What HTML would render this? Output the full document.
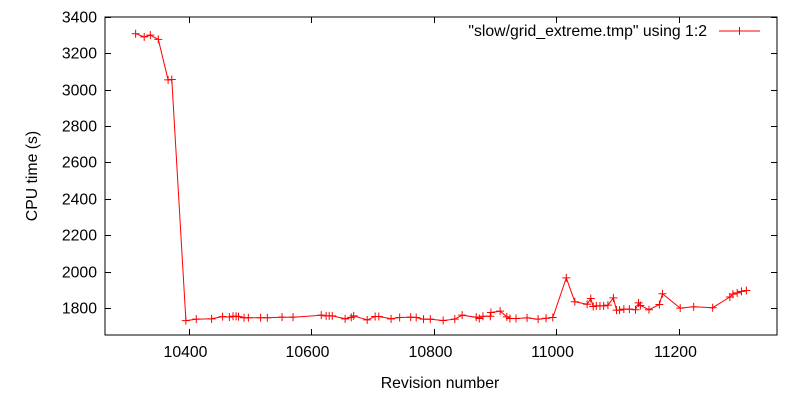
<!DOCTYPE html>
<html><head><meta charset="utf-8"><style>
body{margin:0;background:#fff;}
svg{display:block;font-family:"Liberation Sans",Arial,sans-serif;}
</style></head><body>
<svg id="chart" width="800" height="400">
<rect x="0" y="0" width="800" height="400" fill="#fff"/>
<g id="axes"></g>
<g id="series"></g>
<text x="707" y="36" font-size="15.8" text-anchor="end">"slow/grid_extreme.tmp" using 1:2</text>
<line x1="719" y1="31" x2="760" y2="31" stroke="#f00" stroke-width="1"/>
<line x1="739.5" y1="27" x2="739.5" y2="35" stroke="#f00" stroke-width="1"/>
<text x="440" y="388" font-size="15.8" text-anchor="middle">Revision number</text>
<text x="37" y="176" font-size="15.8" text-anchor="middle" transform="rotate(-90 37 176)">CPU time (s)</text>
</svg>
<script>
const xTicks=[10400,10600,10800,11000,11200];
const yTicks=[1800,2000,2200,2400,2600,2800,3000,3200,3400];
const revisions=[10313,10327,10337,10350,10366,10372,10395,10412,10437,10455,10466,10472,10477,10481,10490,10497,10517,10528,10552,10570,10616,10624,10629,10634,10655,10665,10669,10691,10704,10710,10730,10744,10762,10771,10783,10794,10815,10834,10846,10869,10874,10880,10892,10893,10908,10919,10924,10934,10952,10970,10983,10994,11016,11030,11050,11056,11060,11065,11071,11077,11084,11093,11098,11103,11110,11119,11129,11134,11137,11151,11168,11173,11202,11224,11255,11283,11288,11295,11302,11310];
const cpuTimes=[3308,3291,3300,3277,3054,3056,1730,1738,1740,1752,1750,1754,1754,1752,1746,1746,1746,1746,1749,1749,1760,1756,1756,1756,1740,1748,1756,1734,1753,1753,1740,1747,1749,1747,1738,1738,1731,1738,1760,1749,1742,1754,1754,1775,1782,1751,1742,1742,1745,1738,1743,1747,1965,1834,1820,1852,1808,1811,1811,1811,1815,1855,1788,1788,1793,1793,1790,1828,1813,1790,1819,1878,1799,1806,1801,1860,1876,1883,1891,1896];
const L=105,R=777,T=17,B=335;
const xMin=10263,xMax=11360,yMin=1651,yMax=3400;
const sx=v=>L+(v-xMin)/(xMax-xMin)*(R-L);
const sy=v=>B-(v-yMin)/(yMax-yMin)*(B-T);
const NS="http://www.w3.org/2000/svg";
const axes=document.getElementById('axes'),series=document.getElementById('series');
function mk(tag,attrs,parent){const e=document.createElementNS(NS,tag);for(const k in attrs)e.setAttribute(k,attrs[k]);parent.appendChild(e);return e;}
const frame=mk('rect',{x:L,y:T,width:R-L,height:B-T,fill:'none',stroke:'#000','stroke-width':1},axes);


xTicks.forEach(v=>{const x=Math.round(sx(v))+0.5;
 const t1=mk('line',{x1:x,y1:B,x2:x,y2:B-6,stroke:'#000'},axes);
 
 
 const t2=mk('line',{x1:x,y1:T,x2:x,y2:T+6,stroke:'#000'},axes);
 
 
 const tx=mk('text',{x:x-4,y:B+22,'font-size':15.8,'text-anchor':'middle'},axes);tx.textContent=v;
 
 
});
yTicks.forEach(v=>{const y=Math.round(sy(v))+0.5;
 const t1=mk('line',{x1:L,y1:y,x2:L+6,y2:y,stroke:'#000'},axes);
 
 
 const t2=mk('line',{x1:R,y1:y,x2:R-6,y2:y,stroke:'#000'},axes);
 
 
 const tx=mk('text',{x:L-8,y:y+5,'font-size':15.8,'text-anchor':'end'},axes);tx.textContent=v;
 
 
});
const pts=revisions.map((r,i)=>sx(r).toFixed(1)+','+sy(cpuTimes[i]).toFixed(1)).join(' ');
const line=mk('polyline',{points:pts,fill:'none',stroke:'#f00','stroke-width':1},series);


revisions.forEach((r,i)=>{const x=sx(r),y=sy(cpuTimes[i]);
 const p=mk('path',{d:`M${x-4},${y}H${x+4}M${x},${y-4}V${y+4}`,stroke:'#f00','stroke-width':1,fill:'none'},series);
 
 
});
</script>
</body></html>
